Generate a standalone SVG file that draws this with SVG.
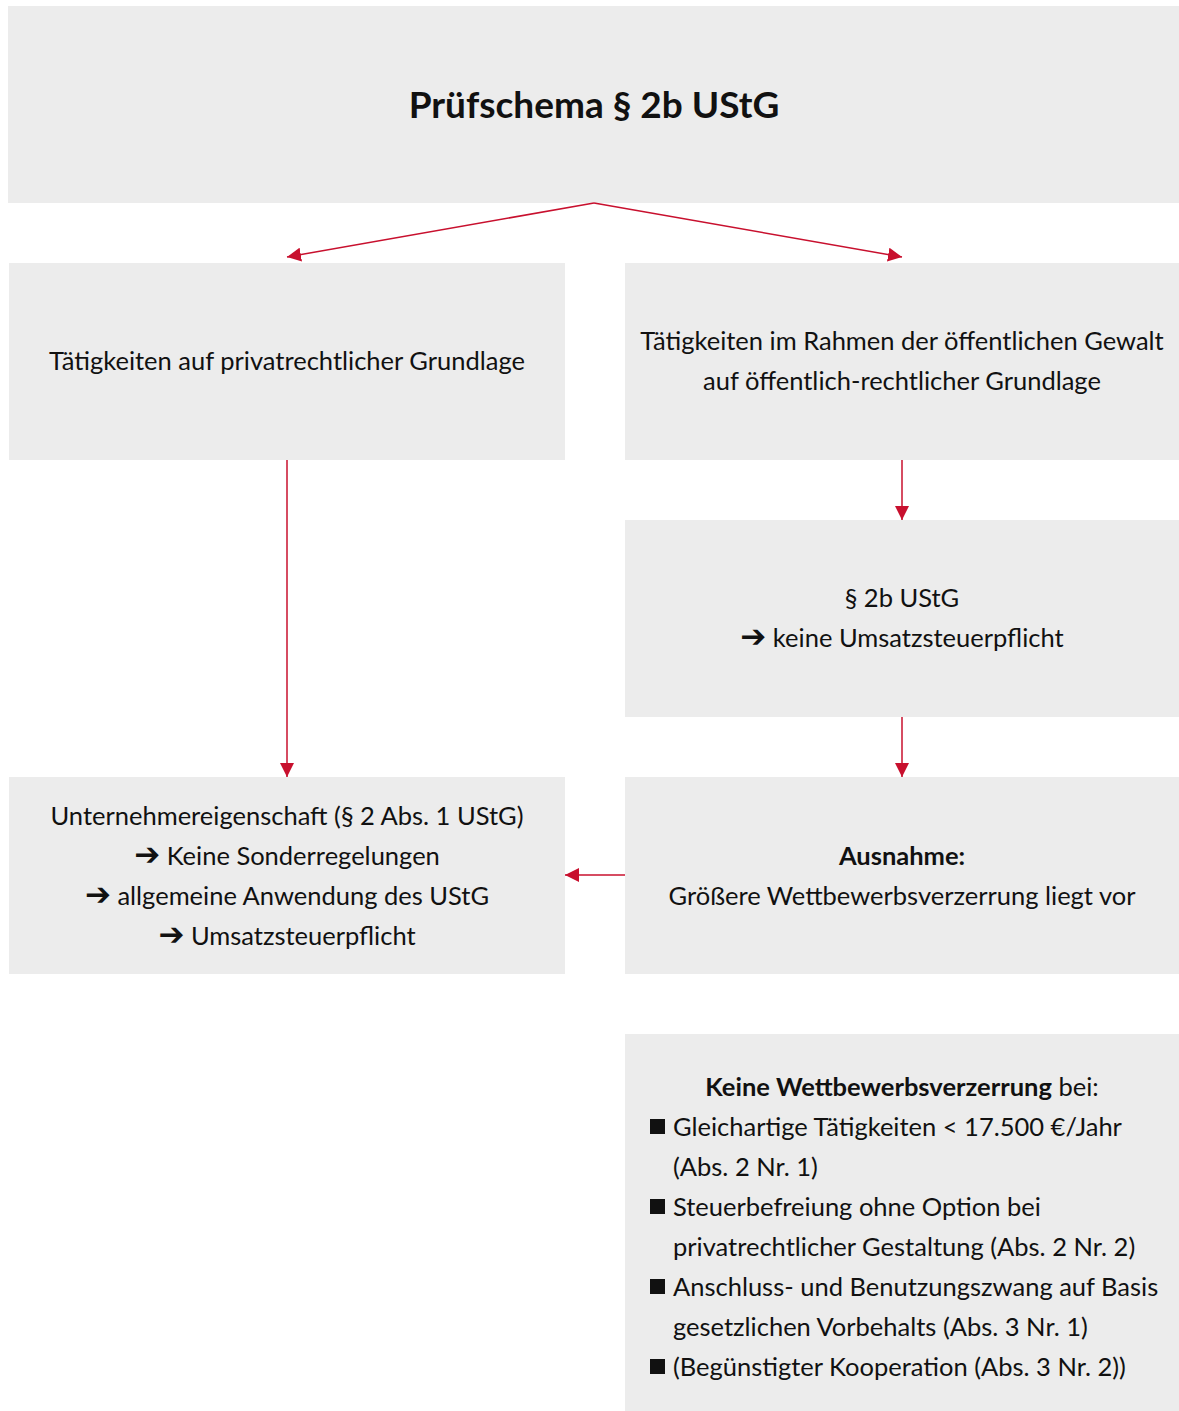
<svg xmlns="http://www.w3.org/2000/svg" width="1179" height="1411" viewBox="0 0 1179 1411">
<style>
.box{fill:#ececec}
.t{font-family:Lato,"Noto Sans","DejaVu Sans",sans-serif;font-size:25.5px;fill:#111}
.c{text-anchor:middle}
.b{font-weight:bold}
.ar{font-family:"DejaVu Sans",sans-serif;font-weight:bold;font-size:31px}
.conn line{stroke:#c8102e;stroke-width:1.5;fill:none}
</style>
<defs>
<marker id="ah" viewBox="0 0 10 10" refX="10" refY="5" markerWidth="14" markerHeight="14" markerUnits="userSpaceOnUse" orient="auto">
<path d="M0,0 L10,5 L0,10 z" fill="#c8102e"/>
</marker>
</defs>
<rect width="1179" height="1411" fill="#fff"/>
<g id="title"><rect class="box" x="8" y="6" width="1171" height="197"/>
<text class="t c b" x="594" y="118" style="font-size:37px">Prüfschema § 2b UStG</text></g>
<g id="privat"><rect class="box" x="9" y="263" width="556" height="197"/>
<text class="t c" x="287" y="370">Tätigkeiten auf privatrechtlicher Grundlage</text></g>
<g id="oeffentlich"><rect class="box" x="625" y="263" width="554" height="197"/>
<text class="t c" x="902" y="350">Tätigkeiten im Rahmen der öffentlichen Gewalt</text>
<text class="t c" x="902" y="390">auf öffentlich-rechtlicher Grundlage</text></g>
<g id="paragraph2b"><rect class="box" x="625" y="520" width="554" height="197"/>
<text class="t c" x="902" y="607">§ 2b UStG</text>
<text class="t c" x="902" y="647"><tspan class="ar">➔</tspan> keine Umsatzsteuerpflicht</text></g>
<g id="unternehmer"><rect class="box" x="9" y="777" width="556" height="197"/>
<text class="t c" x="287" y="825">Unternehmereigenschaft (§ 2 Abs. 1 UStG)</text>
<text class="t c" x="287" y="865"><tspan class="ar">➔</tspan> Keine Sonderregelungen</text>
<text class="t c" x="287" y="905"><tspan class="ar">➔</tspan> allgemeine Anwendung des UStG</text>
<text class="t c" x="287" y="945"><tspan class="ar">➔</tspan> Umsatzsteuerpflicht</text></g>
<g id="ausnahme"><rect class="box" x="625" y="777" width="554" height="197"/>
<text class="t c b" x="902" y="865">Ausnahme:</text>
<text class="t c" x="902" y="905">Größere Wettbewerbsverzerrung liegt vor</text></g>
<g id="keine"><rect class="box" x="625" y="1034" width="554" height="377"/>
<text class="t c" x="902" y="1096"><tspan class="b">Keine Wettbewerbsverzerrung</tspan> bei:</text>
<rect x="650" y="1119" width="15" height="15" fill="#111"/>
<text class="t" x="673" y="1136">Gleichartige Tätigkeiten &lt; 17.500 €/Jahr</text>
<text class="t" x="673" y="1176">(Abs. 2 Nr. 1)</text>
<rect x="650" y="1199" width="15" height="15" fill="#111"/>
<text class="t" x="673" y="1216">Steuerbefreiung ohne Option bei</text>
<text class="t" x="673" y="1256">privatrechtlicher Gestaltung (Abs. 2 Nr. 2)</text>
<rect x="650" y="1279" width="15" height="15" fill="#111"/>
<text class="t" x="673" y="1296">Anschluss- und Benutzungszwang auf Basis</text>
<text class="t" x="673" y="1336">gesetzlichen Vorbehalts (Abs. 3 Nr. 1)</text>
<rect x="650" y="1359" width="15" height="15" fill="#111"/>
<text class="t" x="673" y="1376">(Begünstigter Kooperation (Abs. 3 Nr. 2))</text>
</g>
<g id="connectors" class="conn">
<line x1="594" y1="203" x2="287" y2="257" marker-end="url(#ah)"/>
<line x1="594" y1="203" x2="902" y2="257" marker-end="url(#ah)"/>
<line x1="287" y1="460" x2="287" y2="777" marker-end="url(#ah)"/>
<line x1="902" y1="460" x2="902" y2="520" marker-end="url(#ah)"/>
<line x1="902" y1="717" x2="902" y2="777" marker-end="url(#ah)"/>
<line x1="625" y1="875" x2="565" y2="875" marker-end="url(#ah)"/>
</g>
</svg>
